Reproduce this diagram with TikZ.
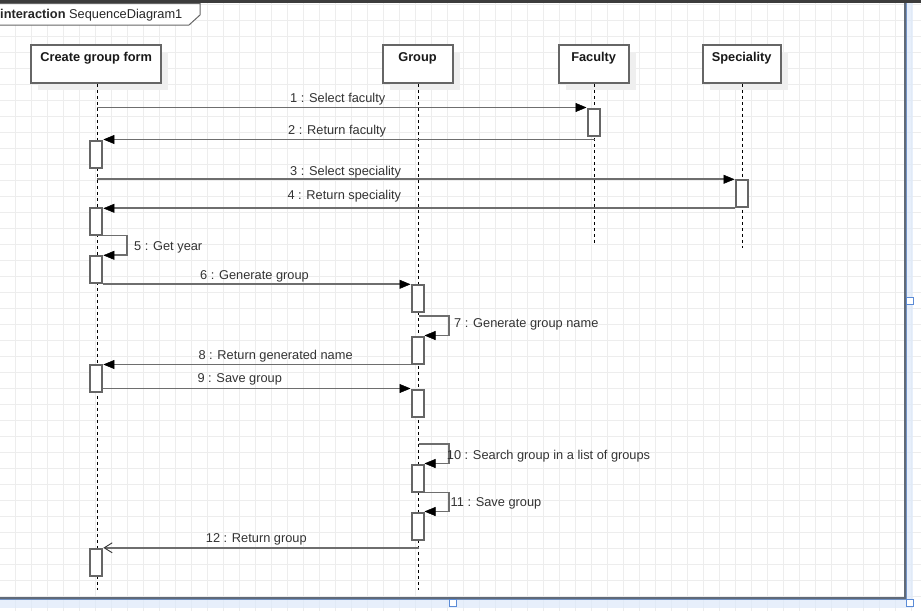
\documentclass[tikz,border=0pt]{standalone}
\usepackage{fontspec}
\setmainfont{Liberation Sans}
\usetikzlibrary{arrows.meta}
\definecolor{gridc}{HTML}{EDEDED}
\definecolor{linec}{HTML}{6E6E6E}
\definecolor{boxc}{HTML}{666666}
\definecolor{txtc}{HTML}{333333}
\definecolor{shadowc}{HTML}{EFEFEF}
\definecolor{frameg}{HTML}{606A78}
\definecolor{selc}{HTML}{7393C4}
\definecolor{selband}{HTML}{DDE9FA}
\definecolor{handlec}{HTML}{5B8BD6}
\definecolor{barc}{HTML}{3C3C3C}
\begin{document}
\begin{tikzpicture}[x=1pt,y=-1pt,
  font=\fontsize{12.8}{15}\selectfont,
  head/.style={draw=boxc, line width=2pt, fill=white,
    preaction={fill=shadowc, draw=none, transform canvas={xshift=7pt,yshift=-7pt}},
    minimum width=#1, text height=13.5pt, text depth=18.5pt,
    inner ysep=3pt, inner xsep=0pt,
    font=\fontsize{12.8}{15}\selectfont\bfseries, text=black!90},
  act/.style={draw=boxc, line width=2pt, fill=white,
    minimum width=12pt, minimum height=27pt, inner sep=0pt},
  life/.style={black, line width=1pt, dash pattern=on 3pt off 3pt},
  msg/.style={linec, line width=1.9pt,
    -{Triangle[length=11pt,width=9pt,line width=0.5pt,color=black]}},
  reply/.style={linec, line width=1.9pt,
    -{Straight Barb[length=8pt,width=10pt,line width=0.9pt,color=black!80]}},
  lbl/.style={anchor=base west, inner sep=0pt, text=txtc},
  handle/.style={draw=handlec, fill=white, line width=0.9pt,
    minimum size=7pt, inner sep=0pt}]

% canvas and grid
\fill[white] (0,0) rectangle (921,611);
\useasboundingbox (0,0) rectangle (921,611);
\foreach \gx in {15,31,...,911} \draw[gridc, line width=1pt] (\gx,0) -- (\gx,611);
\foreach \gy in {4,20,...,596} \draw[gridc, line width=1pt] (0,\gy) -- (921,\gy);

% selection band around the frame
\fill[selband, opacity=0.7] (907.3,3) rectangle (913.3,608);
\fill[selband, opacity=0.7] (0,600) rectangle (907.3,608);

% frame border
\draw[frameg, line width=1.5pt] (905,0) -- (905,598) -- (0,598);
\draw[selc, line width=1.2pt] (906.4,3) -- (906.4,599.4) -- (0,599.4);

% frame tag
\draw[boxc, line width=1pt, fill=white] (-1,3.5) -- (200,3.5) -- (200,15) -- (189,25) -- (-1,25);
\node[lbl, text=black!85] (tag) at (0,18.5) {\textbf{interaction} SequenceDiagram1};

% lifeline heads
\node[head=130.5pt] (cgf) at (96.2,63.8) {Create group form};
\node[head=70pt]    (grp) at (417.5,63.8) {Group};
\node[head=70pt]    (fac) at (593.7,63.8) {Faculty};
\node[head=78pt]    (spc) at (741.7,63.8) {Speciality};

% lifeline ends
\coordinate (cgfE) at (97.3,590);
\coordinate (grpE) at (418.7,590);
\coordinate (facE) at (594.7,243);
\coordinate (spcE) at (742.3,248);

\draw[life] (cgf.south -| cgfE) -- (cgfE);
\draw[life] (grp.south -| grpE) -- (grpE);
\draw[life] (fac.south -| facE) -- (facE);
\draw[life] (spc.south -| spcE) -- (spcE);

% activations
\node[act] (a1) at (96.4,154) {};
\node[act] (a2) at (96.4,221) {};
\node[act] (a3) at (96.4,269.8) {};
\node[act] (a4) at (96.4,378) {};
\node[act] (a5) at (96.4,562.3) {};
\node[act] (b1) at (417.5,298) {};
\node[act] (b2) at (417.5,350) {};
\node[act] (b3) at (417.5,403) {};
\node[act] (b4) at (417.5,478) {};
\node[act] (b5) at (417.5,526) {};
\node[act] (f1) at (593.5,122) {};
\node[act] (s1) at (741.5,193.8) {};

% self-call starting points on the Group lifeline
\coordinate (m7s)  at (418.7,316);
\coordinate (m10s) at (418.7,444);

% messages
\draw[msg] (f1.north west -| cgfE) -- (f1.north west);
\draw[msg] (a1.north east -| facE) -- (a1.north east);
\draw[msg] (s1.north west -| cgfE) -- (s1.north west);
\draw[msg] (s1.south west) -- (s1.south west -| a2.east);
\draw[msg] (a2.south east) -- ++(23.5,0) |- (a3.north east);
\draw[msg] (a3.south east) -- (a3.south east -| b1.west);
\draw[msg] (m7s) -- ++(30,0) |- (b2.north east);
\draw[msg] (b2.south west) -- (b2.south west -| a4.east);
\draw[msg] (b3.north west -| a4.east) -- (b3.north west);
\draw[msg] (m10s) -- ++(30,0) |- (b4.north east);
\draw[msg] (b4.south east) -- ++(24.5,0) |- (b5.north east);
\draw[reply] (a5.north east -| grpE) -- (a5.north east);

% message labels
\node[lbl] (l1)  at (290,102.7) {1 : Select faculty};
\node[lbl] (l2)  at (288,134.5) {2 : Return faculty};
\node[lbl] (l3)  at (290,175) {3 : Select speciality};
\node[lbl] (l4)  at (287.3,199.5) {4 : Return speciality};
\node[lbl] (l5)  at (134,250.7) {5 : Get year};
\node[lbl] (l6)  at (200,279.7) {6 : Generate group};
\node[lbl] (l7)  at (454,327.7) {7 : Generate group name};
\node[lbl] (l8)  at (198.3,359.3) {8 : Return generated name};
\node[lbl] (l9)  at (197.3,382.7) {9 : Save group};
\node[lbl] (l10) at (446.7,459.2) {10 : Search group in a list of groups};
\node[lbl] (l11) at (450.5,506.7) {11 : Save group};
\node[lbl] (l12) at (205.7,542.7) {12 : Return group};

% resize handles
\node[handle] (h1) at (910.3,301) {};
\node[handle] (h2) at (452.5,603) {};
\node[handle] (h3) at (910.3,603) {};

% top edge
\fill[barc] (0,0) rectangle (921,3.3);
\end{tikzpicture}
\end{document}
